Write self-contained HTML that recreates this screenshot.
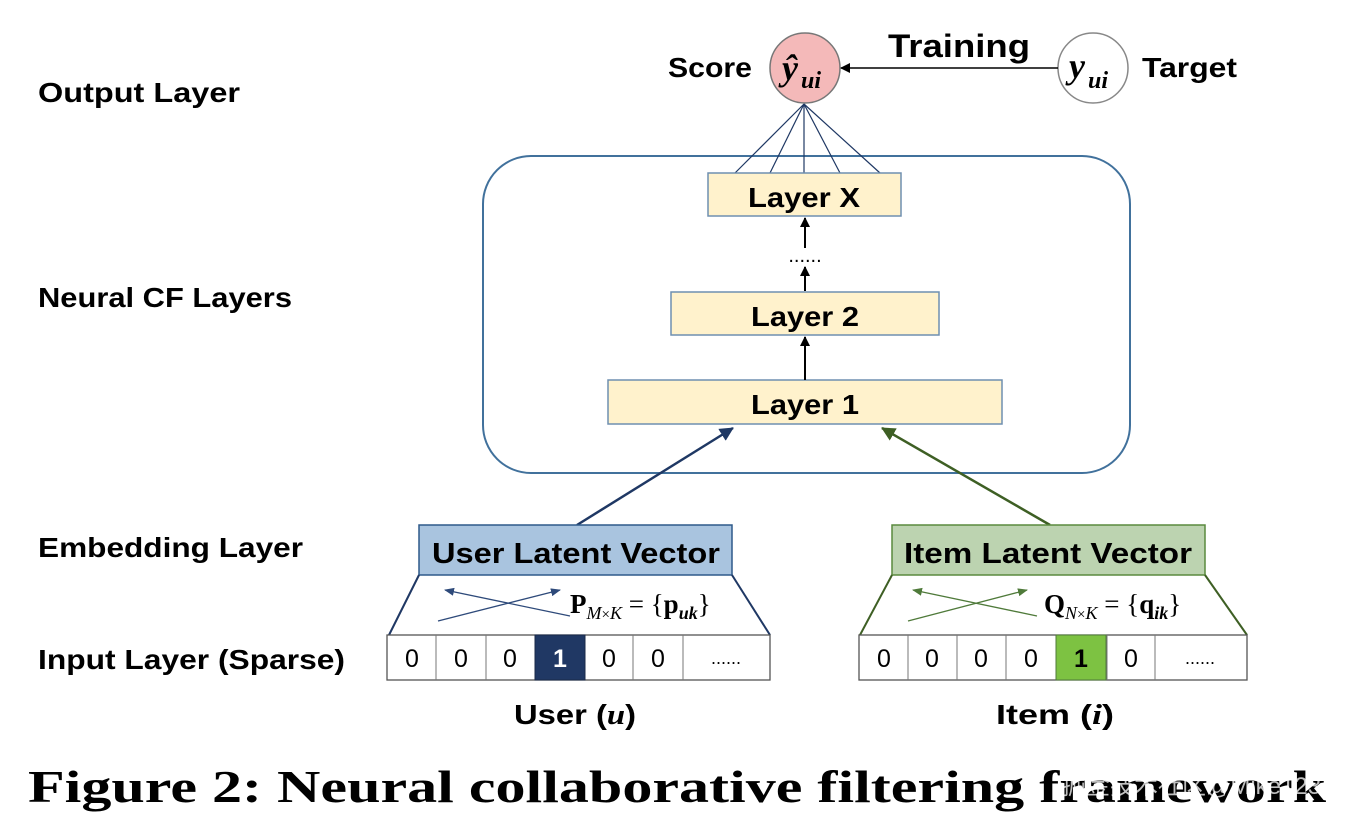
<!DOCTYPE html>
<html><head><meta charset="utf-8"><style>
html,body{margin:0;padding:0;background:#fff;}
svg{display:block;}
text{font-family:"Liberation Sans",sans-serif;fill:#000;}
.b{font-weight:bold;}
.n{font-weight:normal;}
.s{font-family:"Liberation Serif",serif;}
</style></head><body>
<svg width="1368" height="822" viewBox="0 0 1368 822" xmlns="http://www.w3.org/2000/svg">
<defs>
<marker id="ak" markerWidth="10" markerHeight="10" refX="9" refY="5" orient="auto" markerUnits="userSpaceOnUse"><path d="M0,0 L10,5 L0,10 z" fill="#000"/></marker>
<marker id="ab" markerWidth="14" markerHeight="14" refX="13" refY="7" orient="auto" markerUnits="userSpaceOnUse"><path d="M0,0 L14,7 L0,14 z" fill="#1f3864"/></marker>
<marker id="ag" markerWidth="14" markerHeight="14" refX="13" refY="7" orient="auto" markerUnits="userSpaceOnUse"><path d="M0,0 L14,7 L0,14 z" fill="#3e5f24"/></marker>
<marker id="sb" markerWidth="10" markerHeight="10" refX="9" refY="5" orient="auto" markerUnits="userSpaceOnUse"><path d="M0,1 L10,5 L0,9 z" fill="#2e4a7a"/></marker>
<marker id="sg" markerWidth="10" markerHeight="10" refX="9" refY="5" orient="auto" markerUnits="userSpaceOnUse"><path d="M0,1 L10,5 L0,9 z" fill="#4f7a3a"/></marker>
</defs>

<g class="b">
<text x="38" y="102" font-size="28" textLength="202" lengthAdjust="spacingAndGlyphs">Output Layer</text>
<text x="38" y="307" font-size="28" textLength="254" lengthAdjust="spacingAndGlyphs">Neural CF Layers</text>
<text x="38" y="557" font-size="28" textLength="265" lengthAdjust="spacingAndGlyphs">Embedding Layer</text>
<text x="38" y="669" font-size="28" textLength="307" lengthAdjust="spacingAndGlyphs">Input Layer (Sparse)</text>
</g>

<rect x="483" y="156" width="647" height="317" rx="48" fill="none" stroke="#41719c" stroke-width="2"/>

<text class="b" x="668" y="77" font-size="28" textLength="84" lengthAdjust="spacingAndGlyphs">Score</text>
<circle cx="805" cy="68" r="35" fill="#f4b9b9" stroke="#777" stroke-width="1.5"/>
<text class="s b" x="782" y="80" font-size="36" font-style="italic">ŷ</text>
<text class="s b" x="801" y="88" font-size="24" font-style="italic">ui</text>
<circle cx="1093" cy="68" r="35" fill="#fff" stroke="#888" stroke-width="1.5"/>
<text class="s b" x="1069" y="78" font-size="36" font-style="italic">y</text>
<text class="s b" x="1088" y="88" font-size="24" font-style="italic">ui</text>
<text class="b" x="1142" y="77" font-size="28" textLength="95" lengthAdjust="spacingAndGlyphs">Target</text>
<text class="b" x="888" y="57" font-size="32" textLength="142" lengthAdjust="spacingAndGlyphs">Training</text>
<line x1="1058" y1="68" x2="841" y2="68" stroke="#000" stroke-width="1.5" marker-end="url(#ak)"/>

<g stroke="#1f3864" stroke-width="1.2">
<line x1="804" y1="104" x2="735" y2="173"/>
<line x1="804" y1="104" x2="770" y2="173"/>
<line x1="804" y1="104" x2="804" y2="173"/>
<line x1="804" y1="104" x2="840" y2="173"/>
<line x1="804" y1="104" x2="880" y2="173"/>
</g>

<rect x="708" y="173" width="193" height="43" fill="#fff2cc" stroke="#6f8fb0" stroke-width="1.5"/>
<text class="b" x="804" y="207" font-size="28" text-anchor="middle" textLength="112" lengthAdjust="spacingAndGlyphs">Layer X</text>
<rect x="671" y="292" width="268" height="43" fill="#fff2cc" stroke="#6f8fb0" stroke-width="1.5"/>
<text class="b" x="805" y="326" font-size="28" text-anchor="middle" textLength="108" lengthAdjust="spacingAndGlyphs">Layer 2</text>
<rect x="608" y="380" width="394" height="44" fill="#fff2cc" stroke="#6f8fb0" stroke-width="1.5"/>
<text class="b" x="805" y="414" font-size="28" text-anchor="middle" textLength="108" lengthAdjust="spacingAndGlyphs">Layer 1</text>

<g stroke="#000" stroke-width="2">
<line x1="805" y1="380" x2="805" y2="337" marker-end="url(#ak)"/>
<line x1="805" y1="291" x2="805" y2="267" marker-end="url(#ak)"/>
<line x1="805" y1="248" x2="805" y2="218" marker-end="url(#ak)"/>
</g>
<text class="n" x="805" y="262" font-size="20" text-anchor="middle">......</text>

<line x1="577" y1="525" x2="733" y2="428" stroke="#1f3864" stroke-width="2.5" marker-end="url(#ab)"/>
<line x1="1050" y1="525" x2="882" y2="428" stroke="#3e5f24" stroke-width="2.5" marker-end="url(#ag)"/>

<rect x="419" y="525" width="313" height="50" fill="#a9c4df" stroke="#2e5a8a" stroke-width="1.5"/>
<text class="b" x="576" y="563" font-size="29" text-anchor="middle" textLength="288" lengthAdjust="spacingAndGlyphs">User Latent Vector</text>
<line x1="419" y1="575" x2="389" y2="635" stroke="#1f3864" stroke-width="2"/>
<line x1="732" y1="575" x2="770" y2="635" stroke="#1f3864" stroke-width="2"/>
<line x1="438" y1="621" x2="560" y2="590" stroke="#2e4a7a" stroke-width="1.3" marker-end="url(#sb)"/>
<line x1="570" y1="616" x2="445" y2="590" stroke="#2e4a7a" stroke-width="1.3" marker-end="url(#sb)"/>
<text class="s b" x="570" y="613" font-size="27">P<tspan class="n" font-size="18" font-style="italic" dy="6">M</tspan><tspan class="n" font-size="15">×</tspan><tspan class="n" font-size="18" font-style="italic">K</tspan><tspan class="n" dy="-6"> = {</tspan>p<tspan font-size="18" font-style="italic" dy="6">uk</tspan><tspan class="n" dy="-6">}</tspan></text>

<rect x="387" y="635" width="383" height="45" fill="#fff" stroke="#555" stroke-width="1.3"/>
<g stroke="#777" stroke-width="1">
<line x1="436" y1="635" x2="436" y2="680"/><line x1="486" y1="635" x2="486" y2="680"/>
<line x1="585" y1="635" x2="585" y2="680"/><line x1="633" y1="635" x2="633" y2="680"/>
<line x1="683" y1="635" x2="683" y2="680"/>
</g>
<rect x="535" y="635" width="50" height="45" fill="#203864" stroke="#1a2a48"/>
<g font-size="25" text-anchor="middle" class="n">
<text x="412" y="667">0</text><text x="461" y="667">0</text>
<text x="510" y="667">0</text><text class="b" x="560" y="667" style="fill:#fff">1</text>
<text x="609" y="667">0</text><text x="658" y="667">0</text>
<text x="726" y="664" font-size="18">......</text>
</g>
<text class="b" x="514" y="724" font-size="28" textLength="122" lengthAdjust="spacingAndGlyphs">User (<tspan class="s" font-style="italic">u</tspan>)</text>

<rect x="892" y="525" width="313" height="50" fill="#bcd3b0" stroke="#5a8a3e" stroke-width="1.5"/>
<text class="b" x="1048" y="563" font-size="29" text-anchor="middle" textLength="288" lengthAdjust="spacingAndGlyphs">Item Latent Vector</text>
<line x1="892" y1="575" x2="860" y2="635" stroke="#3e5f24" stroke-width="2"/>
<line x1="1205" y1="575" x2="1247" y2="635" stroke="#3e5f24" stroke-width="2"/>
<line x1="908" y1="621" x2="1027" y2="590" stroke="#4f7a3a" stroke-width="1.3" marker-end="url(#sg)"/>
<line x1="1037" y1="616" x2="913" y2="590" stroke="#4f7a3a" stroke-width="1.3" marker-end="url(#sg)"/>
<text class="s b" x="1044" y="613" font-size="27">Q<tspan class="n" font-size="18" font-style="italic" dy="6">N</tspan><tspan class="n" font-size="15">×</tspan><tspan class="n" font-size="18" font-style="italic">K</tspan><tspan class="n" dy="-6"> = {</tspan>q<tspan font-size="18" font-style="italic" dy="6">ik</tspan><tspan class="n" dy="-6">}</tspan></text>

<rect x="859" y="635" width="388" height="45" fill="#fff" stroke="#555" stroke-width="1.3"/>
<g stroke="#777" stroke-width="1">
<line x1="908" y1="635" x2="908" y2="680"/><line x1="957" y1="635" x2="957" y2="680"/>
<line x1="1006" y1="635" x2="1006" y2="680"/><line x1="1107" y1="635" x2="1107" y2="680"/>
<line x1="1155" y1="635" x2="1155" y2="680"/>
</g>
<rect x="1056" y="635" width="50" height="45" fill="#7dc242" stroke="#4f7a3a"/>
<g font-size="25" text-anchor="middle" class="n">
<text x="884" y="667">0</text><text x="932" y="667">0</text>
<text x="981" y="667">0</text><text x="1031" y="667">0</text>
<text class="b" x="1081" y="667">1</text><text x="1131" y="667">0</text>
<text x="1200" y="664" font-size="18">......</text>
</g>
<text class="b" x="996" y="724" font-size="28" textLength="118" lengthAdjust="spacingAndGlyphs">Item (<tspan class="s" font-style="italic">i</tspan>)</text>

<text class="s b" x="28" y="802" font-size="46" textLength="1298" lengthAdjust="spacingAndGlyphs">Figure 2: Neural collaborative filtering framework</text>
<text class="n" x="1062" y="794" font-size="24" style="fill:#fff;opacity:0.75;font-family:'Liberation Sans','Noto Sans CJK SC',sans-serif">掘金技术社区@Mike123</text>
</svg>
</body></html>
